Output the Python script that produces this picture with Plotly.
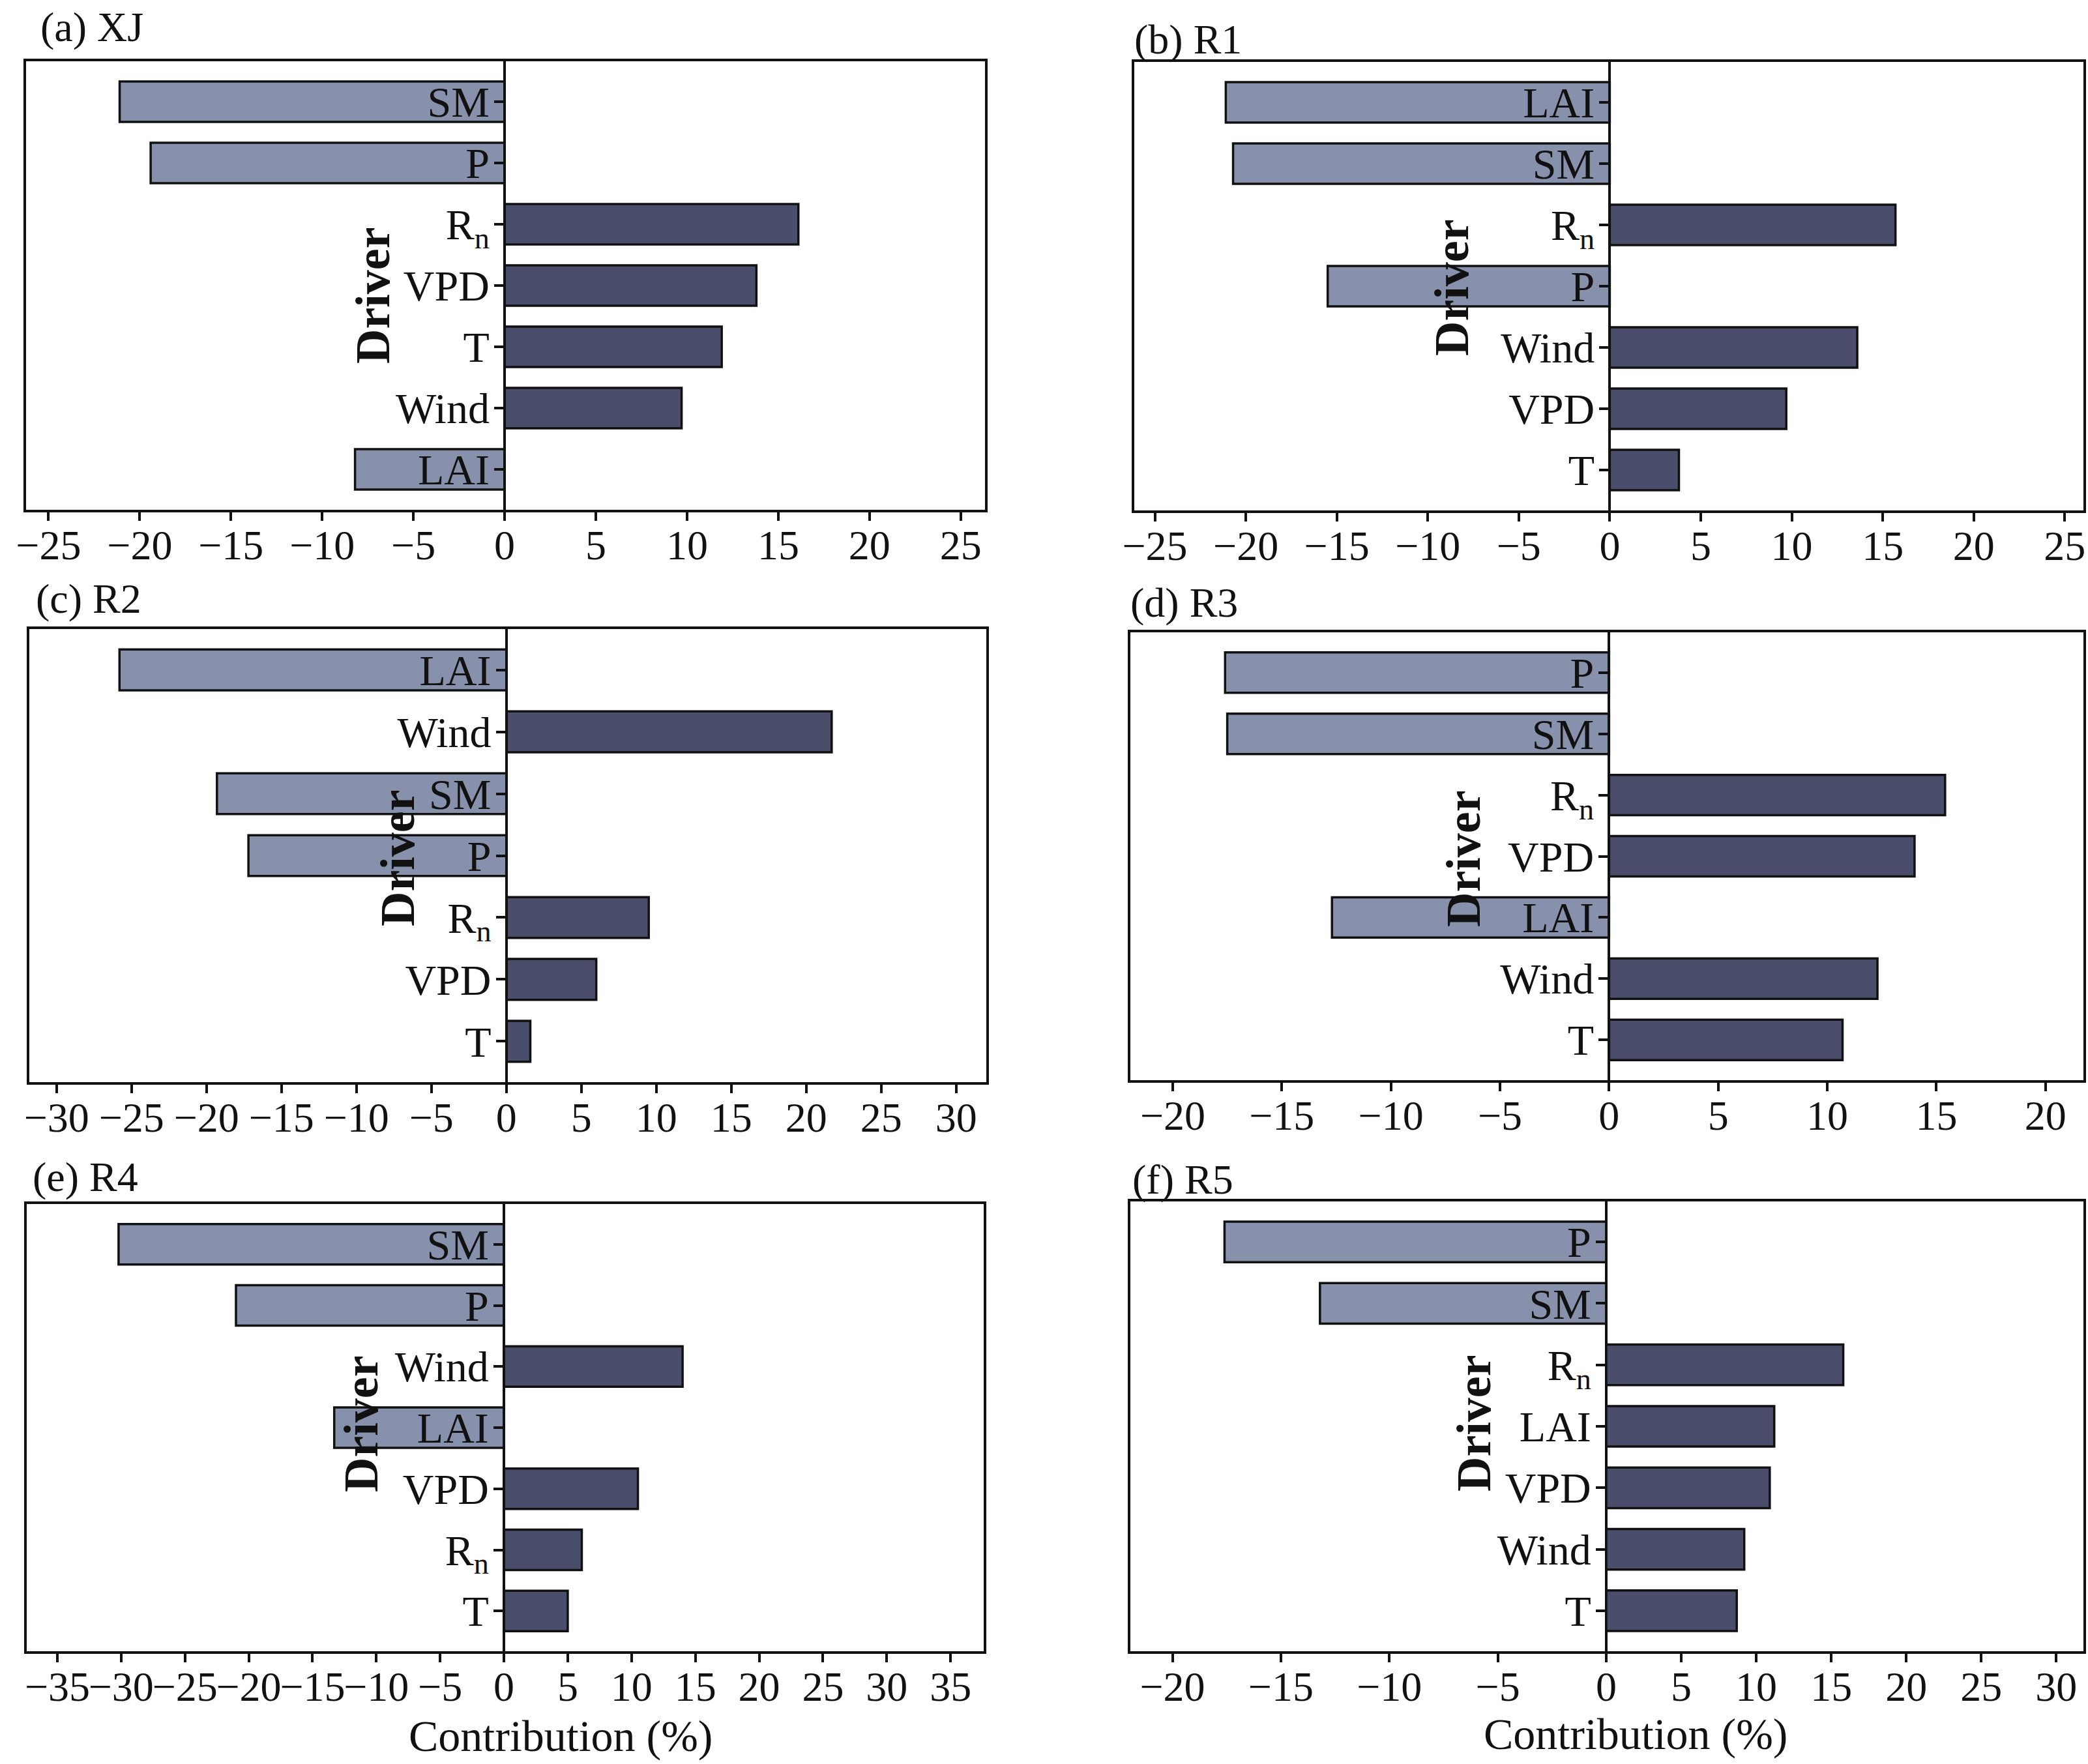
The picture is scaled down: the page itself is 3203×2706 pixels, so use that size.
import plotly.graph_objects as go

W, H = 3203, 2706

# ---------------- data ----------------
a_drivers = ["SM", "P", "R<sub>n</sub>", "VPD", "T", "Wind", "LAI"]
a_values = [-21.1, -19.4, 16.1, 13.8, 11.9, 9.7, -8.2]

b_drivers = ["LAI", "SM", "R<sub>n</sub>", "P", "Wind", "VPD", "T"]
b_values = [-21.1, -20.7, 15.7, -15.5, 13.6, 9.7, 3.8]

c_drivers = ["LAI", "Wind", "SM", "P", "R<sub>n</sub>", "VPD", "T"]
c_values = [-25.8, 21.7, -19.3, -17.2, 9.5, 6.0, 1.6]

d_drivers = ["P", "SM", "R<sub>n</sub>", "VPD", "LAI", "Wind", "T"]
d_values = [-17.6, -17.5, 15.4, 14.0, -12.7, 12.3, 10.7]

e_drivers = ["SM", "P", "Wind", "LAI", "VPD", "R<sub>n</sub>", "T"]
e_values = [-30.2, -21.0, 14.0, -13.3, 10.5, 6.1, 5.0]

f_drivers = ["P", "SM", "R<sub>n</sub>", "LAI", "VPD", "Wind", "T"]
f_values = [-17.6, -13.2, 15.8, 11.2, 10.9, 9.2, 8.7]

panel_titles = ["(a) XJ", "(b) R1", "(c) R2", "(d) R3", "(e) R4", "(f) R5"]
y_title = "Driver"
x_title = "Contribution (%)"

# ---------------- styling / layout ----------------
NEG_COLOR = "#8891ac"
POS_COLOR = "#4a4e6b"
FONT = "Liberation Serif"
INK = "#111111"

panels = [
    dict(drivers=a_drivers, values=a_values, box=(38, 92, 1513, 784), xr=(-26.3, 26.4), split=False,
         title=(60, 42), driver=(572, 453)),
    dict(drivers=b_drivers, values=b_values, box=(1738, 93, 3198, 785), xr=(-26.2, 26.1), split=False,
         title=(1738, 60), driver=(2227, 441)),
    dict(drivers=c_drivers, values=c_values, box=(43, 963, 1515, 1662), xr=(-31.9, 32.1), split=False,
         title=(53, 918), driver=(610, 1316)),
    dict(drivers=d_drivers, values=d_values, box=(1732, 968, 3198, 1659), xr=(-22.0, 21.8), split=False,
         title=(1732, 924), driver=(2245, 1317)),
    dict(drivers=e_drivers, values=e_values, box=(39, 1845, 1511, 2535), xr=(-37.5, 37.7), split=False,
         title=(48, 1805), driver=(554, 2184), xlabel=(860, 2663)),
    dict(drivers=f_drivers, values=f_values, box=(1732, 1841, 3198, 2535), xr=(-22.0, 31.9), split=True,
         zero_px=2464, title=(1735, 1810), driver=(2261, 2183), xlabel=(2509, 2660)),
]

fig = go.Figure()
layout = dict(
    template="none",
    width=W, height=H, margin=dict(l=0, r=0, t=0, b=0, pad=0, autoexpand=False),
    paper_bgcolor="white", plot_bgcolor="white",
    showlegend=False, barmode="overlay",
    font=dict(family=FONT, color=INK),
)
shapes = []
annotations = []

xcount = 0
tick_font = dict(family=FONT, size=64, color=INK)


def xaxis_spec(domain, rng, yname, tickvals):
    return dict(
        domain=domain, range=rng, anchor=yname, showgrid=False, zeroline=False,
        showline=False, ticks="outside", ticklen=14, tickwidth=4, tickcolor=INK,
        tickvals=tickvals, tickangle=0, tickfont=tick_font, fixedrange=True,
        ticklabelstandoff=-18, automargin=False,
    )


for i, p in enumerate(panels):
    x0, y0, x1, y1 = p["box"]
    ysuf = "" if i == 0 else str(i + 1)
    yname = "y" + ysuf
    lo, hi = p["xr"]
    n = len(p["drivers"])
    neg_y = [d for d, v in zip(p["drivers"], p["values"]) if v < 0]
    neg_x = [v for v in p["values"] if v < 0]
    pos_y = [d for d, v in zip(p["drivers"], p["values"]) if v >= 0]
    pos_x = [v for v in p["values"] if v >= 0]

    if p["split"]:
        zero_px = p["zero_px"]
        xcount += 1
        xl = "" if xcount == 1 else str(xcount)
        layout["xaxis" + xl] = xaxis_spec([x0 / W, zero_px / W], [lo, 0], yname,
                                          [t for t in range(-35, 0, 5) if t >= lo])
        neg_axis = "x" + xl
        xcount += 1
        xr_ = str(xcount)
        layout["xaxis" + xr_] = xaxis_spec([zero_px / W, x1 / W], [0, hi], yname,
                                           [t for t in range(0, 40, 5) if t <= hi])
        pos_axis = "x" + xr_
    else:
        zero_px = x0 + (-lo) / (hi - lo) * (x1 - x0)
        xcount += 1
        xl = "" if xcount == 1 else str(xcount)
        ticks = [t for t in range(-40, 45, 5) if lo <= t <= hi]
        layout["xaxis" + xl] = xaxis_spec([x0 / W, x1 / W], [lo, hi], yname, ticks)
        neg_axis = pos_axis = "x" + xl

    layout["yaxis" + ysuf] = dict(
        domain=[1 - y1 / H, 1 - y0 / H], anchor="free", position=zero_px / W,
        type="category", categoryorder="array", categoryarray=p["drivers"],
        range=[n - 1 + 0.68, -0.68], showgrid=False, zeroline=False,
        showline=True, linewidth=4, linecolor=INK,
        ticks="outside", ticklen=14, tickwidth=4, tickcolor=INK,
        tickfont=dict(family=FONT, size=66, color=INK), fixedrange=True,
        ticklabelstandoff=-6, automargin=False,
    )

    fig.add_trace(go.Bar(x=neg_x, y=neg_y, orientation="h", width=0.66,
                         marker=dict(color=NEG_COLOR, line=dict(color=INK, width=3.5)),
                         xaxis=neg_axis, yaxis=yname, hoverinfo="x+y"))
    fig.add_trace(go.Bar(x=pos_x, y=pos_y, orientation="h", width=0.66,
                         marker=dict(color=POS_COLOR, line=dict(color=INK, width=3.5)),
                         xaxis=pos_axis, yaxis=yname, hoverinfo="x+y"))

    shapes.append(dict(type="rect", xref="paper", yref="paper",
                       x0=x0 / W, x1=x1 / W, y0=1 - y1 / H, y1=1 - y0 / H,
                       line=dict(color=INK, width=4), fillcolor="rgba(0,0,0,0)", layer="above"))

    tx, ty = p["title"]
    annotations.append(dict(text=panel_titles[i], x=tx / W, y=1 - ty / H, xref="paper", yref="paper",
                            xanchor="left", yanchor="middle", showarrow=False,
                            font=dict(family=FONT, size=64, color=INK)))
    dx, dy = p["driver"]
    annotations.append(dict(text="<b>" + y_title + "</b>", x=dx / W, y=1 - dy / H, xref="paper", yref="paper",
                            xanchor="center", yanchor="middle", showarrow=False, textangle=-90,
                            font=dict(family=FONT, size=74, color=INK)))
    if "xlabel" in p:
        lx, ly = p["xlabel"]
        annotations.append(dict(text=x_title, x=lx / W, y=1 - ly / H, xref="paper", yref="paper",
                                xanchor="center", yanchor="middle", showarrow=False,
                                font=dict(family=FONT, size=68, color=INK)))

layout["shapes"] = shapes
layout["annotations"] = annotations
fig.update_layout(**layout)

post = (
    "document.documentElement.style.margin='0';"
    "document.documentElement.style.padding='0';"
    "document.documentElement.style.overflow='hidden';"
    "document.body.style.margin='0';"
    "document.body.style.padding='0';"
    "document.body.style.overflow='hidden';"
    "window.scrollTo(0,0);"
)

fig.write_html("out.html", include_plotlyjs=True, config={"displayModeBar": False},
               post_script=post)
